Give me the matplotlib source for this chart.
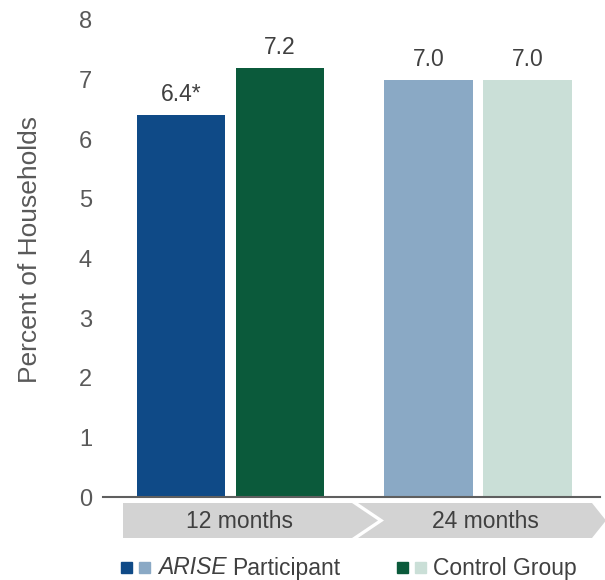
import matplotlib
matplotlib.use("Agg")
import matplotlib.pyplot as plt
from matplotlib.patches import Polygon, Rectangle
import numpy as np

plt.rcParams["font.family"] = ["Liberation Sans", "DejaVu Sans"]

# ─── data ─────────────────────────────────────────────────────────────────────
periods = ["12 months", "24 months"]
participant = [6.4, 7.0]
control = [7.2, 7.0]
participant_labels = ["6.4*", "7.0"]
control_labels = ["7.2", "7.0"]
yticks = [0, 1, 2, 3, 4, 5, 6, 7, 8]

# per-period colours: 12 months dark, 24 months light
participant_colors = ["#0f4a87", "#8aa9c5"]
control_colors = ["#0b5a3b", "#cadfd7"]
text_gray = "#595959"
label_gray = "#404040"
fs = 16.5

W, H = 605, 580
fig = plt.figure(figsize=(W / 100, H / 100), dpi=100)

# main axes placed in pixel terms
left, right, bottom, top = 103, 600, 497, 20
ax = fig.add_axes([left / W, 1 - bottom / H, (right - left) / W, (bottom - top) / H])

x = np.arange(len(periods))
width = 0.356
offset = 0.2

b1 = ax.bar(x - offset, participant, width, color=participant_colors)
b2 = ax.bar(x + offset, control, width, color=control_colors)

for bars, labels in ((b1, participant_labels), (b2, control_labels)):
    for bar, lab in zip(bars, labels):
        ax.text(bar.get_x() + bar.get_width() / 2, bar.get_height() + 0.15, lab,
                ha="center", va="bottom", fontsize=fs, color=label_gray)

ax.set_xlim(-0.515, 1.493)
ax.set_ylim(0, 8)
ax.set_yticks(yticks)
ax.set_yticklabels([str(t) for t in yticks], fontsize=fs + 0.5, color=text_gray)
ax.tick_params(axis="y", length=0, pad=8)
ax.set_xticks([])
for s in ("top", "right", "left"):
    ax.spines[s].set_visible(False)
ax.spines["bottom"].set_color("#5f5f5f")
ax.spines["bottom"].set_linewidth(1.5)
ax.set_ylabel("Percent of Households", fontsize=19, color=text_gray)
ax.yaxis.set_label_coords(-0.122, 0.518)

# ─── chevron band under the axis ──────────────────────────────────────────────
band = fig.add_axes([0, 0, 1, 1], zorder=-1)
band.set_xlim(0, W)
band.set_ylim(H, 0)
band.axis("off")

y0, y1 = 503, 538
ym = (y0 + y1) / 2
gray = "#d3d3d3"
band.add_patch(Polygon([(123, y0), (352, y0), (378, ym), (352, y1), (123, y1)],
                       closed=True, facecolor=gray, edgecolor="none"))
band.add_patch(Polygon([(358, y0), (592, y0), (606, ym), (592, y1), (358, y1), (384, ym)],
                       closed=True, facecolor=gray, edgecolor="none"))
band.text(240, ym + 1, periods[0], ha="center", va="center", fontsize=fs, color=label_gray)
band.text(485, ym + 1, periods[1], ha="center", va="center", fontsize=fs, color=label_gray)

# ─── legend ───────────────────────────────────────────────────────────────────
ly = 567
sq = 11
band.add_patch(Rectangle((121, ly - sq / 2), sq, sq, color=participant_colors[0]))
band.add_patch(Rectangle((139, ly - sq / 2), sq, sq, color=participant_colors[1]))
arise = band.text(158, ly + 1, "ARISE", ha="left", va="center", fontsize=fs,
                  color=label_gray, style="italic")
fig.canvas.draw()
bb = arise.get_window_extent()
band.text(bb.x1 + 5, ly + 1, "Participant", ha="left", va="center", fontsize=fs, color=label_gray)

band.add_patch(Rectangle((397, ly - sq / 2), sq, sq, color=control_colors[0]))
band.add_patch(Rectangle((415, ly - sq / 2), sq, sq, color=control_colors[1]))
band.text(433, ly + 1, "Control Group", ha="left", va="center", fontsize=fs, color=label_gray)

fig.savefig("out.png", dpi=100)
